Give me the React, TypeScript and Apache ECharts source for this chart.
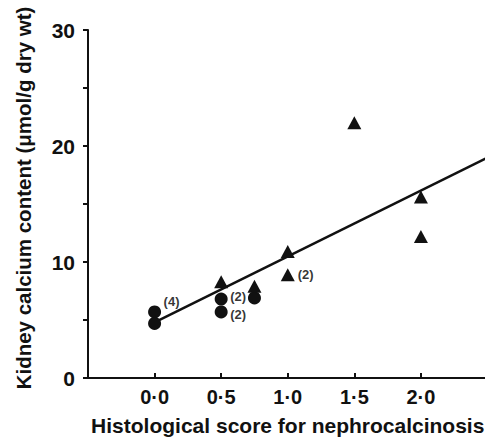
import React, { useEffect, useRef } from "react";
import * as echarts from "echarts";

const circlePoints: [number, number][] = [
  [0, 5.7],
  [0, 4.7],
  [0.5, 6.8],
  [0.5, 5.7],
  [0.75, 6.9],
];
const trianglePoints: [number, number][] = [
  [0.5, 8.3],
  [0.75, 7.9],
  [1.0, 10.9],
  [1.0, 8.9],
  [1.5, 22.0],
  [2.0, 15.6],
  [2.0, 12.2],
];
const annotations: [number, number, string][] = [
  [0, 5.7, "(4)"],
  [0.5, 6.8, "(2)"],
  [0.5, 5.7, "(2)"],
  [1.0, 8.9, "(2)"],
];
const annotationOffsets: [number, number][] = [
  [9, -17],
  [9, -9],
  [9, -4],
  [10, -7],
];
const regressionLine: [number, number][] = [
  [0, 4.8],
  [2.5, 19.0],
];
const xTicks = [-0.5, 0, 0.5, 1.0, 1.5, 2.0, 2.5];
const xLabeled = [0, 0.5, 1.0, 1.5, 2.0];
const yLabeled = [0, 10, 20, 30];
const xTitle = "Histological score for nephrocalcinosis";
const yTitle = "Kidney calcium content (\u03bcmol/g dry wt)";

const FONT = "'Liberation Sans', Arial, sans-serif";

export default function App() {
  const ref = useRef<HTMLDivElement>(null);
  useEffect(() => {
    const chart = echarts.init(ref.current!, null, { renderer: "svg" });
    chart.setOption({
      animation: false,
      backgroundColor: "#fff",
      grid: {
        left: 88,
        right: 0.5,
        top: 30,
        bottom: 59,
        containLabel: false,
        outerBoundsMode: "none",
      },
      xAxis: {
        type: "value",
        min: xTicks[0],
        max: xTicks[xTicks.length - 1],
        interval: 0.5,
        splitLine: { show: false },
        axisLine: { onZero: false, lineStyle: { color: "#111", width: 2 } },
        axisTick: { inside: true, length: 5, lineStyle: { color: "#111", width: 2 } },
        axisLabel: {
          margin: 9,
          color: "#111",
          fontFamily: FONT,
          fontWeight: "bold",
          fontSize: 20,
          formatter: (v: number) =>
            xLabeled.some((t) => Math.abs(t - v) < 1e-6) ? v.toFixed(1).replace(".", "\u00b7") : "",
        },
        name: xTitle,
        nameLocation: "middle",
        nameGap: 37,
        nameTextStyle: { color: "#111", fontFamily: FONT, fontWeight: "bold", fontSize: 21 },
      },
      yAxis: {
        type: "value",
        min: 0,
        max: 30,
        interval: 5,
        splitLine: { show: false },
        axisLine: { onZero: false, lineStyle: { color: "#111", width: 2 } },
        axisTick: { inside: false, length: 5, lineStyle: { color: "#111", width: 2 } },
        axisLabel: {
          margin: 13,
          color: "#111",
          fontFamily: FONT,
          fontWeight: "bold",
          fontSize: 21,
          formatter: (v: number) => (yLabeled.includes(v) ? String(v) : ""),
        },
        name: yTitle,
        nameLocation: "middle",
        nameRotate: 90,
        nameGap: 54,
        nameTextStyle: {
          color: "#111",
          fontFamily: FONT,
          fontWeight: "bold",
          fontSize: 20.5,
          padding: [0, 0, 0, 12],
        },
      },
      series: [
        {
          type: "line",
          data: regressionLine,
          symbol: "none",
          lineStyle: { color: "#111", width: 2.5 },
          z: 1,
        },
        {
          type: "scatter",
          data: circlePoints,
          symbol: "circle",
          symbolSize: 13,
          itemStyle: { color: "#111", opacity: 1 },
          z: 3,
        },
        {
          type: "scatter",
          data: trianglePoints,
          symbol: "triangle",
          symbolSize: [14, 13],
          itemStyle: { color: "#111", opacity: 1 },
          z: 3,
        },
        {
          type: "scatter",
          data: annotations.map((a, i) => ({
            value: [a[0], a[1]],
            label: {
              show: true,
              formatter: a[2],
              position: annotationOffsets[i],
            },
          })),
          symbolSize: 0,
          label: {
            color: "#000",
            fontFamily: FONT,
            fontWeight: "bold",
            fontSize: 13,
            lineHeight: 13,
          },
          z: 4,
        },
      ],
    });
    return () => chart.dispose();
  }, []);
  return (
    <div
      ref={ref}
      style={{ position: "absolute", left: 0, top: 0, width: 488, height: 437 }}
    />
  );
}
